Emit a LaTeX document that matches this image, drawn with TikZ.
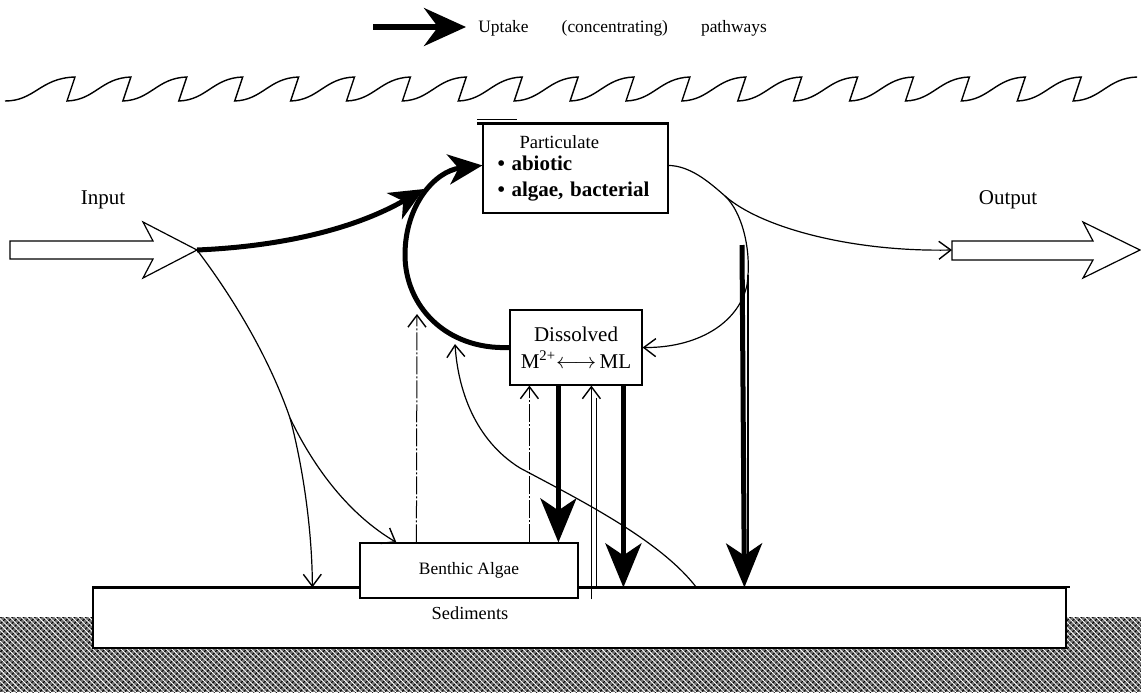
\documentclass[tikz,border=0pt]{standalone}
\usepackage{fontspec}
\setmainfont{Liberation Serif}
\usetikzlibrary{arrows.meta,calc,patterns.meta}

\begin{document}
\begin{tikzpicture}[x=0.5pt,y=-0.5pt,
  box/.style={draw, fill=white, line width=0.6pt, inner sep=0pt},
  thinflow/.style={line width=0.6pt, -{Straight Barb[length=6pt,width=9pt,line width=0.7pt]}},
  thinline/.style={line width=0.6pt},
  dashflow/.style={line width=0.5pt, dash pattern=on 9pt off 1pt on 1pt off 1pt,
                   -{Straight Barb[length=6pt,width=9pt,line width=0.7pt]}},
  uptake/.style={line width=2.5pt, -{Stealth[length=17pt,width=15pt,inset=5pt]}},
  settle/.style={line width=2.5pt, -{Stealth[length=22pt,width=18pt,inset=6pt]}},
  blockarrow/.style={draw, fill=white, line width=0.6pt, line join=miter},
  lbl/.style={inner sep=0pt},
]
\useasboundingbox (0,0) rectangle (1141,692);

% ---- bed rock (hatched ground) ----
\fill[black!55] (0,617) rectangle (1141,692);
\path[pattern={Lines[angle=45,distance=2pt,line width=0.5pt]}, pattern color=black]
  (0,617) rectangle (1141,692);
\path[pattern={Lines[angle=-45,distance=2pt,line width=0.45pt]}, pattern color=white]
  (0,617) rectangle (1141,692);

% ---- legend ----
\coordinate (legA) at (373,27);
\coordinate (legB) at (466,27);
\draw[line width=2.6pt, -{Stealth[length=21pt,width=19pt,inset=7pt]}] (legA) -- (legB);
\node[lbl, anchor=west, font=\fontsize{8.7}{10}\selectfont] (legtxt) at (478,28)
  {Uptake\hspace{1.9em}(concentrating)\hspace{1.9em}pathways};

% ---- water surface: a row of breaking wavelets ----
\draw[line width=0.7pt, line join=miter]
  (5,101) .. controls (35,101) and (40,78) .. (75,77)
  foreach \k [evaluate=\k as \b using 75+(\k-1)*55.9-8] in {1,...,19} {
    -- (\b,101) .. controls (\b+28,100) and (\b+34,78) .. (\b+63.9,77)
  };

% ---- sediments ----
\node[box, minimum width=486.5pt, minimum height=30pt] (sed) at (579.5,618) {};
\draw[line width=1pt] (sed.north west) -- ($(sed.north east)+(3,0)$);
\node[lbl, font=\fontsize{9.2}{11}\selectfont] (sedtxt) at (470,613) {Sediments};

% ---- compartments ----
\node[box, minimum width=92.5pt, minimum height=44.5pt, align=left,
      text width=78pt] (part) at (575.5,168.5)
  {\hspace*{11pt}{\fontsize{9.3}{12}\selectfont Particulate}\\[-1pt]
   {\fontsize{10.5}{13}\selectfont\bfseries \textbullet\ abiotic}\\[1pt]
   {\fontsize{10.5}{13}\selectfont\bfseries \textbullet\ algae, bacterial}};
\draw[line width=1.1pt] ($(part.north west)+(-5,0)$) -- (part.north east);
\draw[line width=0.8pt] ($(part.north west)+(-5,-4)$) -- ($(part.north west)+(35,-4)$);

\node[box, minimum width=66pt, minimum height=37.5pt, align=center,
      font=\fontsize{10.5}{13.5}\selectfont] (diss) at (576,347.5)
  {Dissolved\\M\textsuperscript{2+}$\longleftrightarrow$\,ML};

\node[box, minimum width=109pt, minimum height=27.5pt,
      font=\fontsize{8.7}{11}\selectfont] (benth) at (469,570.5) {Benthic Algae};

% ---- input and output ----
\draw[blockarrow] (10,241) -- (153,241) -- (143,222) -- (197,250) -- (143,278)
  -- (153,259) -- (10,259) -- cycle;
\draw[blockarrow] (952,241) -- (1093,241) -- (1083,222) -- (1140,250) -- (1083,278)
  -- (1093,260) -- (952,260) -- cycle;
\coordinate (inTip) at (197,250);
\coordinate (outTail) at (952,250);
\node[lbl, font=\fontsize{10.5}{12}\selectfont] (inlbl) at (103,200) {Input};
\node[lbl, font=\fontsize{10.5}{12}\selectfont] (outlbl) at (1008,200) {Output};

% ---- uptake loop ----
\draw[uptake] (inTip) .. controls (290,246) and (360,226) .. (424,189);
\draw[uptake] (diss.west) .. controls (445,350) and (405,305) .. (405,255)
  .. controls (405,205) and (435,171) .. ($(part.north west)+(0,42)$);

% ---- exchanges with the benthic algae ----
\draw[dashflow] ($(benth.north west)+(57,0)$) -- (417,314);
\draw[dashflow] ($(benth.north west)+(170,0)$) -- ($(diss.south west)+(20,0)$);

% ---- settling of dissolved metal ----
\draw[settle] ($(diss.south west)+(49,0)$) -- ($(benth.north west)+(199,0)$);
\draw[settle] ($(diss.south west)+(114,0)$) -- ($(sed.north west)+(531,0)$);

% ---- release from the sediments ----
\draw[thinflow] ($(sed.north west)+(499,12)$) -- ($(diss.south west)+(82,0)$);
\draw[thinline] ($(diss.south west)+(87,12)$) -- ($(sed.north west)+(504,0)$);
\draw[thinflow] ($(sed.north west)+(604,0)$) .. controls (660,540) and (580,500) .. (520,468)
  .. controls (475,440) and (458,390) .. (455,344);

% ---- input to the benthic algae and the sediments ----
\coordinate (fork) at (290,418);
\draw[thinline] (inTip) .. controls (235,300) and (270,360) .. (fork);
\draw[thinflow] (fork) .. controls (315,470) and (350,515) .. ($(benth.north west)+(37,0)$);
\draw[thinflow] (fork) .. controls (300,455) and (312,520) .. ($(sed.north west)+(220,0)$);

% ---- particulate to output, dissolved and sediments ----
\coordinate (branch) at (725,196);
\draw[thinline] ($(part.north east)+(0,42)$) .. controls (690,166) and (708,181) .. (branch);
\draw[thinflow] (branch) .. controls (760,227) and (850,252) .. (outTail);
\draw[thinflow] (branch) .. controls (742,212) and (752,250) .. (747,285)
  .. controls (738,325) and (695,348) .. (diss.east);
\coordinate (settleTop) at (742,245);
\draw[settle] (settleTop) -- ($(sed.north west)+(652,0)$);
\draw[thinline] (748,275) -- (748,555);
\end{tikzpicture}
\end{document}
